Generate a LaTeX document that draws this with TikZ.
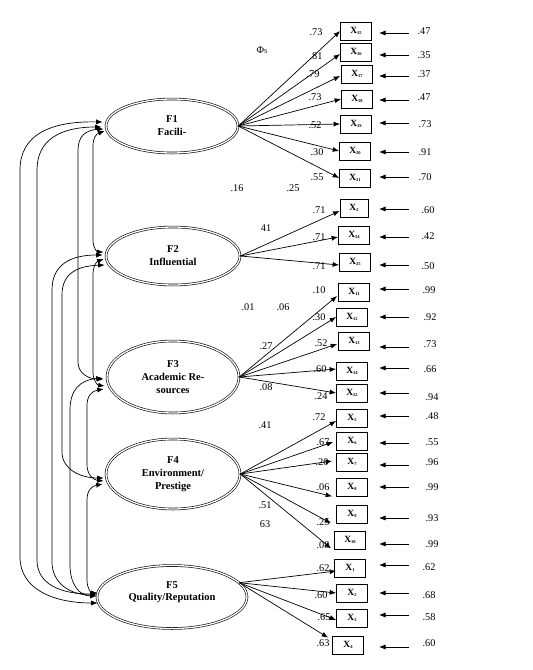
\documentclass[tikz,border=0pt]{standalone}
\usepackage{fontspec}
\setmainfont{Liberation Serif}
\usetikzlibrary{shapes.geometric,arrows.meta,calc}
\newcommand{\xvar}[1]{X\raisebox{-0.7pt}{\fontsize{4.5}{5}\selectfont #1}}
\begin{document}
\begin{tikzpicture}[x=1pt,y=-1pt,
  lat/.style={draw, ellipse, double, double distance=1.3pt, line width=0.6pt, inner sep=0pt,
    font=\bfseries\fontsize{10.5}{13}\selectfont, align=center},
  obs/.style={draw, line width=0.7pt, minimum width=31pt, minimum height=18pt, inner sep=0pt,
    font=\bfseries\fontsize{9.5}{10}\selectfont},
  load/.style={-{Latex[length=6.5pt,width=5pt]}, line width=0.7pt},
  cov/.style={{Latex[length=6.5pt,width=5pt]}-{Latex[length=6.5pt,width=5pt]}, line width=0.7pt},
  num/.style={font=\fontsize{10.3}{12}\selectfont, inner sep=0pt}
]
\useasboundingbox (0,0) rectangle (533,670);

% latent factors
\node[lat, minimum width=132pt, minimum height=54pt] (F1) at (172,126) {F1\\Facili-};
\node[lat, minimum width=134pt, minimum height=58pt] (F2) at (173,256) {F2\\Influential};
\node[lat, minimum width=132pt, minimum height=72pt] (F3) at (173,377) {F3\\Academic Re-\\sources};
\node[lat, minimum width=134pt, minimum height=70pt] (F4) at (173,474) {F4\\Environment/\\Prestige};
\node[lat, minimum width=150pt, minimum height=63pt] (F5) at (172,597) {};
\node[font=\bfseries\fontsize{10.5}{12}\selectfont, align=center, inner sep=0pt] (F5t) at (172,592) {F5\\Quality/Reputation};

% observed variables
\node[obs] (X15) at (356,31) {\xvar{15}};
\node[obs] (X16) at (356,52) {\xvar{16}};
\node[obs] (X17) at (357,74) {\xvar{17}};
\node[obs] (X18) at (357,99) {\xvar{18}};
\node[obs] (X19) at (356,124) {\xvar{19}};
\node[obs] (X20) at (355,151) {\xvar{20}};
\node[obs] (X21) at (355,178) {\xvar{21}};
\node[obs, minimum width=28pt] (X2) at (354,208) {\xvar{2}};
\node[obs] (X24) at (354,235) {\xvar{24}};
\node[obs] (X25) at (355,262) {\xvar{25}};
\node[obs] (X11) at (354,292) {\xvar{11}};
\node[obs] (X12) at (352,317) {\xvar{12}};
\node[obs] (X13) at (354,341) {\xvar{13}};
\node[obs] (X14) at (352,371) {\xvar{14}};
\node[obs] (X22) at (352,393) {\xvar{22}};
\node[obs] (X5) at (352,418) {\xvar{5}};
\node[obs] (X6) at (352,441) {\xvar{6}};
\node[obs] (X7) at (352,462) {\xvar{7}};
\node[obs] (X8) at (352,487) {\xvar{8}};
\node[obs] (X9) at (352,514) {\xvar{9}};
\node[obs] (X10) at (350,540) {\xvar{10}};
\node[obs] (X1) at (350,568) {\xvar{1}};
\node[obs] (X2b) at (352,593) {\xvar{2}};
\node[obs] (X3) at (352,618) {\xvar{3}};
\node[obs] (X4) at (348,645) {\xvar{4}};

% loadings
\draw[load] (F1.east) -- (X15.west);
\draw[load] (F1.east) -- ($(X16.west)+(0,2)$);
\draw[load] (F1.east) -- ($(X17.west)+(-1,2)$);
\draw[load] (F1.east) -- (X18.west);
\draw[load] (F1.east) -- (X19.west);
\draw[load] (F1.east) -- (X20.west);
\draw[load] (F1.east) -- (X21.west);
\draw[load] (F2.east) -- ($(X2.west)+(0,3)$);
\draw[load] (F2.east) -- ($(X24.west)+(0,2)$);
\draw[load] (F2.east) -- ($(X25.west)+(0,3)$);
\draw[load] (F3.east) -- ($(X11.west)+(-1,4)$);
\draw[load] (F3.east) -- (X12.west);
\draw[load] (F3.east) -- ($(X13.west)+(-1,3)$);
\draw[load] (F3.east) -- ($(X14.west)+(0,-2)$);
\draw[load] (F3.east) -- (X22.west);
\draw[load] (F4.east) -- ($(X5.west)+(0,3)$);
\draw[load] (F4.east) -- ($(X6.west)+(-3,1)$);
\draw[load] (F4.east) -- ($(X7.west)+(-4,-1)$);
\draw[load] (F4.east) -- ($(X8.south west)+(-4,0)$);
\draw[load] (F4.east) -- ($(X9.south west)+(-5,0)$);
\draw[load] (F4.east) -- ($(X10.south west)+(-3,-1)$);
\draw[load] (F5.12) -- ($(X1.west)+(2,3)$);
\draw[load] (F5.12) -- (X2b.west);
\draw[load] (F5.12) -- ($(X3.west)+(0,2)$);
\draw[load] (F5.12) -- ($(X4.north west)+(-4,2)$);

% error terms
\foreach \n/\y/\ly/\lx/\v in {e15/33/31/424/.47, e16/55/55/424/.35, e17/76/74/424/.37, e18/100/97/424/.47,
  e19/123/124/425/.73, e20/152/152/425/.91, e21/177/177/425/.70,
  e2/209/210/428/.60, e24/237/236/428/.42, e25/265/266/428/.50,
  e11/289/290/429/.99, e12/317/317/430/.92, e13/347/344/430/.73, e14/368/369/430/.66, e22/393/397/432/.94,
  e5/416/416/432/.48, e6/443/442/432/.55, e7/465/462/432/.96, e8/487/487/432/.99, e9/518/518/432/.93, e10/544/544/432/.99,
  e1/565/567/429/.62, e2b/593/595/429/.68, e3/615/617/429/.58, e4/647/643/429/.60}{
  \coordinate (s\n) at (409,\y);
  \coordinate (t\n) at (379,\y);
  \draw[load] (s\n) -- (t\n);
  \node[num] (l\n) at (\lx,\ly) {\v};
}

% loading values
\foreach \n/\x/\y/\v in {a1/316/32/.73, a2/316/56/.81, a3/313/74/.79, a4/315/97/.73, a5/315/125/.52, a6/317/152/.30, a7/317/177/.55,
  b1/319/210/.71, b2/319/237/.71, b3/319/266/.71,
  c1/319/290/.10, c2/319/317/.30, c3/321/343/.52, c4/320/369/.60, c5/321/396/.24,
  d1/319/417/.72, d2/323/442/.67, d3/322/462/.20, d4/323/487/.06, d5/323/522/.25, d6/323/545/.08,
  g1/323/568/.62, g2/321/595/.60, g3/324/617/.65, g4/323/643/.63,
  m1/237/188/.16, m2/293/188/.25, m3/266/228/41, m4/248/307/.01, m5/283/307/.06, m6/266/346/.27, m7/266/387/.08,
  m8/265/425/.41, m9/265/505/.51, m10/265/524/63}{
  \node[num] (v\n) at (\x,\y) {\v};
}
\node[num] (phi) at (262,50) {Φ{\fontsize{6}{6}\selectfont S}};

% covariances
\draw[cov] ($(F1.west)+(-3,-4)$) .. controls (50,121) and (20,135) .. (20,170) -- (20,557)
   .. controls (20,590) and (55,603) .. ($(F5.west)+(1,6)$);
\draw[cov] ($(F1.west)+(-4,1)$) .. controls (60,127) and (37,140) .. (37,170) -- (37,560)
   .. controls (37,585) and (62,594) .. ($(F5.west)+(0,-3)$);
\draw[cov] ($(F1.west)+(-2,3)$) .. controls (86,130) and (78,136) .. (78,150) -- (78,362)
   .. controls (78,373) and (88,379) .. ($(F3.west)+(-3,2)$);
\draw[cov] ($(F1.west)+(-1,5)$) .. controls (96,134) and (93,138) .. (93,146) -- (93,240)
   .. controls (93,248) and (97,252) .. ($(F2.west)+(-2,-4)$);
\draw[cov] ($(F2.west)+(-2,3)$) .. controls (96,262) and (93,266) .. (93,275) -- (93,372)
   .. controls (93,380) and (97,385) .. ($(F3.west)+(-2,9)$);
\draw[cov] ($(F2.west)+(-3,-1)$) .. controls (70,255) and (52,265) .. (52,290) -- (52,562)
   .. controls (52,583) and (70,595) .. ($(F5.west)+(0,-2)$);
\draw[cov] ($(F2.west)+(-1,9)$) .. controls (75,266) and (62,275) .. (62,295) -- (62,452)
   .. controls (62,469) and (80,478) .. ($(F4.west)+(-2,4)$);
\draw[cov] ($(F3.west)+(-4,1)$) .. controls (80,380) and (70,390) .. (70,410) -- (70,565)
   .. controls (70,585) and (80,596) .. ($(F5.west)+(0,-1)$);
\draw[cov] ($(F3.west)+(-3,12)$) .. controls (92,391) and (87,396) .. (87,405) -- (87,465)
   .. controls (87,474) and (93,480) .. ($(F4.west)+(-2,7)$);
\draw[cov] ($(F4.west)+(-3,10)$) .. controls (92,486) and (87,490) .. (87,500) -- (87,580)
   .. controls (87,588) and (91,593) .. ($(F5.west)+(1,-4)$);
\end{tikzpicture}
\end{document}
